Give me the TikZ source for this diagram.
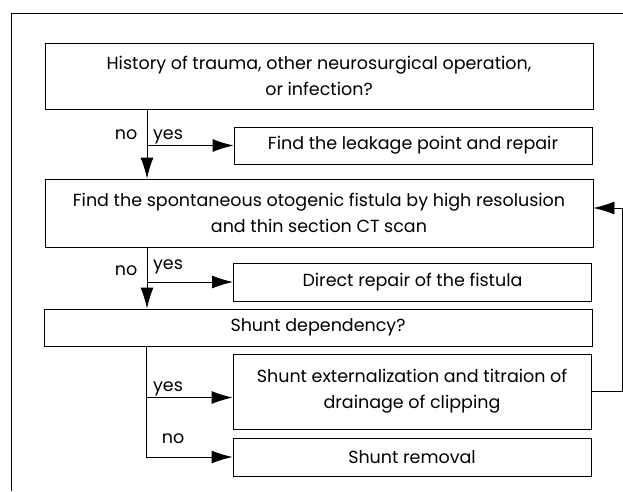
\documentclass[tikz,border=0pt]{standalone}
\usepackage{fontspec}
\setmainfont{Poppins}
\usetikzlibrary{arrows.meta}

\begin{document}
\begin{tikzpicture}[x=1pt, y=-1pt, every node/.style={font=\fontsize{17.5}{26}\selectfont, inner sep=0pt},
    box/.style={draw, line width=0.9pt, align=center, minimum width=548pt},
    sidebox/.style={draw, line width=0.9pt, align=center, minimum width=358pt},
    flow/.style={line width=0.9pt, -{Latex[length=21pt, width=13pt]}},
    lbl/.style={anchor=base}]

  \useasboundingbox (0,0) rectangle (623,491);
  % open frame round the chart
  \draw[line width=0.9pt] (11,491) -- (11,13) -- (623,13);

  % main column
  \node[box, minimum height=66pt] (hist) at (319,76) {History of trauma, other neurosurgical operation,\\ or infection?};
  \node[box, minimum height=68pt] (ct) at (319,213) {Find the spontaneous otogenic fistula by high resolusion\\ and thin section CT scan};
  \node[box, minimum height=37pt] (shunt) at (318,327.5) {Shunt dependency?};

  % side column
  \node[sidebox, minimum height=37pt] (leak) at (413,145.5) {Find the leakage point and repair};
  \node[sidebox, minimum height=38pt] (direct) at (412.5,282) {Direct repair of the fistula};
  \node[sidebox, minimum height=75pt] (ext) at (412,391.5) {Shunt externalization and titraion of\\ drainage of clipping};
  \node[sidebox, minimum height=38pt] (removal) at (412,457) {Shunt removal};

  \coordinate (spine) at (147,0);
  \coordinate (spineb) at (146,0);

  % first question
  \draw[flow] (hist.south -| spine) -- (ct.north -| spine);
  \draw[flow] (spine |- leak.west) -- (leak.west);
  \node[lbl] (no1) at (126,139) {no};
  \node[lbl] (yes1) at (168,139) {yes};

  % second question
  \draw[flow] (ct.south -| spine) -- (shunt.north -| spine);
  \draw[flow] (spine |- direct.west) -- (direct.west);
  \node[lbl] (no2) at (126,275) {no};
  \node[lbl] (yes2) at (168,269) {yes};

  % shunt
  \draw[flow] (shunt.south -| spineb) |- (removal.west);
  \draw[flow] ([yshift=-6pt]ext.west -| spineb) -- ([yshift=-6pt]ext.west);
  \node[lbl] (yes3) at (168,391) {yes};
  \node[lbl] (no3) at (173,443) {no};

  % back to CT
  \draw[flow] (ext.east) -- ++(31,0) |- ([yshift=5pt]ct.east);

\end{tikzpicture}
\end{document}
